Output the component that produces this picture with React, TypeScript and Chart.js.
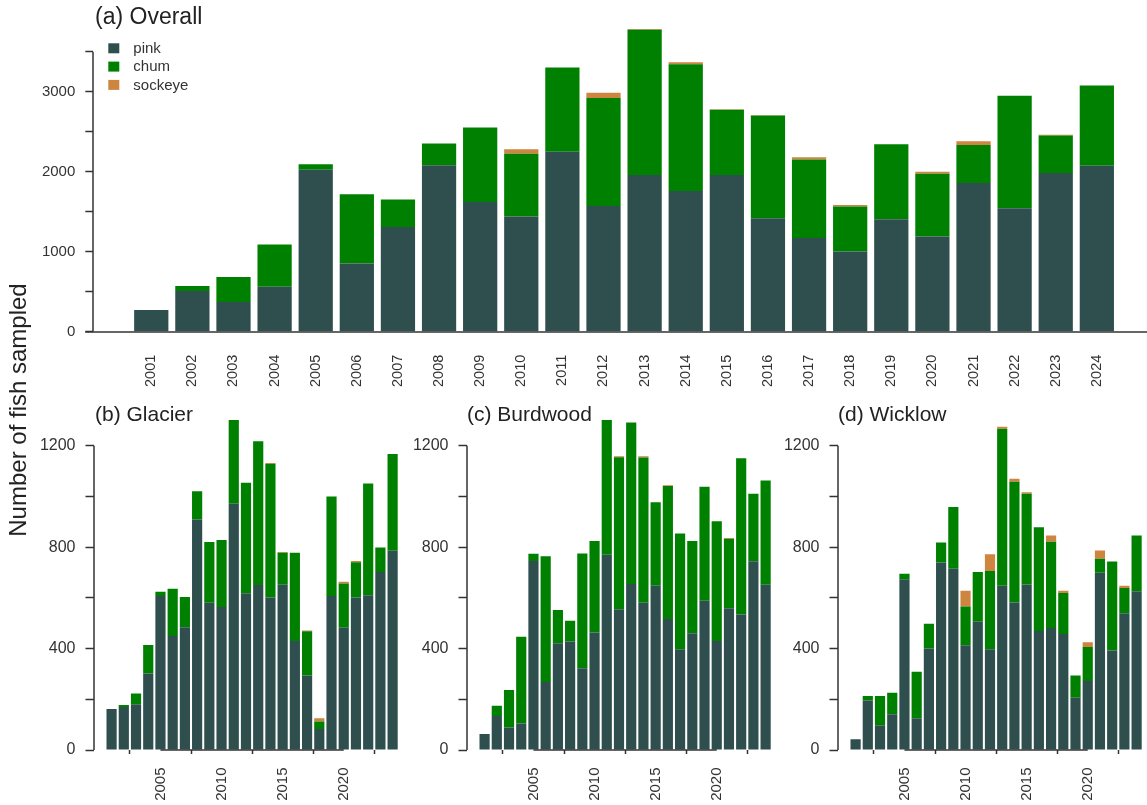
import React, { useEffect, useRef } from 'react';
import { Chart, registerables } from 'chart.js';

Chart.register(...registerables);

const FONT = '"Liberation Sans", Arial, Helvetica, sans-serif';
const PINK_COLOR = '#2F4F4F';
const CHUM_COLOR = '#008000';
const SOCKEYE_COLOR = '#CD853F';
const TEXT = '#333333';

const years = [2001, 2002, 2003, 2004, 2005, 2006, 2007, 2008, 2009, 2010, 2011, 2012,
  2013, 2014, 2015, 2016, 2017, 2018, 2019, 2020, 2021, 2022, 2023, 2024];

const overallPink = [270, 508, 370, 563, 2023, 851, 1309, 2081, 1622, 1439, 2248, 1572,
  1960, 1760, 1960, 1418, 1172, 1001, 1405, 1189, 1860, 1543, 1985, 2073];
const overallChum = [0, 63, 313, 526, 71, 867, 343, 272, 931, 784, 1056, 1348,
  1815, 1582, 814, 1285, 981, 563, 939, 784, 475, 1406, 468, 1006];
const overallSockeye = [0, 0, 0, 0, 0, 0, 0, 0, 0, 59, 0, 66,
  10, 25, 8, 3, 28, 21, 0, 25, 47, 0, 8, 0];

const glacierPink = [162, 170, 180, 302, 607, 450, 484, 909, 581, 564, 971, 618,
  651, 601, 652, 430, 294, 83, 607, 482, 601, 610, 702, 786];
const glacierChum = [0, 7, 43, 112, 17, 186, 119, 111, 239, 264, 330, 436,
  567, 527, 126, 348, 174, 29, 393, 175, 139, 441, 97, 381];
const glacierSockeye = [0, 0, 0, 0, 0, 0, 0, 0, 0, 0, 0, 0,
  0, 4, 3, 0, 3, 13, 0, 7, 5, 0, 0, 0];

const burdwoodPink = [63, 134, 89, 105, 745, 268, 421, 428, 322, 463, 770, 555,
  655, 581, 648, 517, 397, 460, 589, 430, 559, 534, 744, 652];
const burdwoodChum = [0, 41, 148, 342, 29, 496, 131, 82, 453, 361, 531, 600,
  637, 573, 329, 524, 457, 364, 449, 472, 274, 617, 267, 411];
const burdwoodSockeye = [0, 0, 0, 0, 0, 0, 0, 0, 0, 0, 0, 3,
  0, 4, 0, 3, 0, 0, 0, 0, 3, 0, 0, 0];

const wicklowPink = [42, 195, 96, 141, 673, 125, 400, 739, 715, 413, 506, 397,
  648, 582, 653, 469, 481, 457, 206, 272, 699, 392, 539, 626];
const wicklowChum = [0, 18, 117, 85, 22, 184, 98, 79, 243, 153, 196, 309,
  619, 476, 358, 409, 340, 162, 88, 134, 55, 351, 100, 220];
const wicklowSockeye = [0, 0, 0, 0, 0, 0, 0, 0, 0, 62, 0, 66,
  8, 12, 5, 0, 25, 9, 0, 19, 33, 0, 9, 0];

const seriesNames = ['pink', 'chum', 'sockeye'];
const seriesColors = [PINK_COLOR, CHUM_COLOR, SOCKEYE_COLOR];

const overallXTicks = years;
const panelXTicks = [2005, 2010, 2015, 2020];
const overallYTicks = [0, 500, 1000, 1500, 2000, 2500, 3000, 3500];
const overallYLabels = [0, 1000, 2000, 3000];
const panelYTicks = [0, 200, 400, 600, 800, 1000, 1200];
const panelYLabels = [0, 400, 800, 1200];

type Spec = {
  title: string;
  pink: number[];
  chum: number[];
  sockeye: number[];
  left: number;
  top: number;
  width: number;
  height: number;
  axisW: number;
  padTop: number;
  xAxisH: number;
  xMin: number;
  xMax: number;
  yMax: number;
  xTicks: number[];
  yTicks: number[];
  yLabels: number[];
  xTickLen: number;
  xTickPad: number;
  xFont: number;
  yFont: number;
  titleFont: number;
  titleX: number;
  titleY: number;
  fullBaseline: boolean;
  legend: boolean;
};

const specs: Spec[] = [
  {
    title: '(a) Overall', pink: overallPink, chum: overallChum, sockeye: overallSockeye,
    left: 0, top: 0, width: 1147, height: 400,
    axisW: 93.3, padTop: 25, xAxisH: 68.3,
    xMin: 1999.59, xMax: 2025.22, yMax: 3833.75,
    xTicks: overallXTicks, yTicks: overallYTicks, yLabels: overallYLabels,
    xTickLen: 0, xTickPad: 23, xFont: 14.5, yFont: 15,
    titleFont: 23, titleX: 95, titleY: 23.5, fullBaseline: true, legend: true,
  },
  {
    title: '(b) Glacier', pink: glacierPink, chum: glacierChum, sockeye: glacierSockeye,
    left: 0, top: 380, width: 403, height: 425,
    axisW: 93.5, padTop: 15, xAxisH: 55,
    xMin: 1999.52, xMax: 2024.85, yMax: 1400,
    xTicks: panelXTicks, yTicks: panelYTicks, yLabels: panelYLabels,
    xTickLen: 4, xTickPad: 13.5, xFont: 15, yFont: 16,
    titleFont: 21, titleX: 95, titleY: 40.6, fullBaseline: false, legend: false,
  },
  {
    title: '(c) Burdwood', pink: burdwoodPink, chum: burdwoodChum, sockeye: burdwoodSockeye,
    left: 373, top: 380, width: 403, height: 425,
    axisW: 93.5, padTop: 15, xAxisH: 55,
    xMin: 1999.52, xMax: 2024.85, yMax: 1400,
    xTicks: panelXTicks, yTicks: panelYTicks, yLabels: panelYLabels,
    xTickLen: 4, xTickPad: 13.5, xFont: 15, yFont: 16,
    titleFont: 21, titleX: 94, titleY: 40.6, fullBaseline: false, legend: false,
  },
  {
    title: '(d) Wicklow', pink: wicklowPink, chum: wicklowChum, sockeye: wicklowSockeye,
    left: 744, top: 380, width: 403, height: 425,
    axisW: 93.5, padTop: 15, xAxisH: 55,
    xMin: 1999.52, xMax: 2024.85, yMax: 1400,
    xTicks: panelXTicks, yTicks: panelYTicks, yLabels: panelYLabels,
    xTickLen: 4, xTickPad: 13.5, xFont: 15, yFont: 16,
    titleFont: 21, titleX: 94, titleY: 40.6, fullBaseline: false, legend: false,
  },
];

function decorPlugin(spec: Spec) {
  return {
    id: 'decor',
    afterDraw(chart: any) {
      const { ctx, chartArea, scales } = chart;
      const xs = scales.x;
      const ys = scales.y;
      ctx.save();
      ctx.strokeStyle = TEXT;
      ctx.lineWidth = 1.5;
      // y axis line from 0 to last tick
      const ax = Math.round(chartArea.left);
      const yTop = ys.getPixelForValue(spec.yTicks[spec.yTicks.length - 1]);
      const y0 = ys.getPixelForValue(0);
      ctx.beginPath();
      ctx.moveTo(ax, y0);
      ctx.lineTo(ax, yTop);
      ctx.stroke();
      // x baseline / axis
      const by = Math.round(y0);
      ctx.beginPath();
      if (spec.fullBaseline) {
        ctx.moveTo(chartArea.left - 8, by);
        ctx.lineTo(chartArea.right, by);
      } else {
        ctx.moveTo(xs.getPixelForValue(spec.xTicks[0]), by);
        ctx.lineTo(xs.getPixelForValue(spec.xTicks[spec.xTicks.length - 1]), by);
      }
      ctx.stroke();
      // title
      ctx.fillStyle = '#222222';
      ctx.font = `${spec.titleFont}px ${FONT}`;
      ctx.textBaseline = 'alphabetic';
      ctx.textAlign = 'left';
      ctx.fillText(spec.title, spec.titleX, spec.titleY);
      // legend
      if (spec.legend) {
        const datasets = chart.data.datasets;
        ctx.font = `15px ${FONT}`;
        ctx.textBaseline = 'middle';
        datasets.forEach((ds: any, i: number) => {
          const cy = 48.3 + i * 18.3;
          ctx.fillStyle = ds.backgroundColor;
          ctx.fillRect(108.3, cy - 5, 11, 10);
          ctx.fillStyle = TEXT;
          ctx.fillText(ds.label, 133.3, cy + 0.5);
        });
      }
      ctx.restore();
    },
  };
}

function Panel({ spec }: { spec: Spec }) {
  const ref = useRef<HTMLCanvasElement | null>(null);
  useEffect(() => {
    if (!ref.current) return;
    const seriesData = [spec.pink, spec.chum, spec.sockeye];
    const chart = new Chart(ref.current, {
      type: 'bar',
      data: {
        datasets: seriesNames.map((name, k) => ({
          label: name,
          data: years.map((yr, i) => ({ x: yr, y: seriesData[k][i] })),
          backgroundColor: seriesColors[k],
          borderWidth: 0,
          categoryPercentage: 1,
          barPercentage: 0.833,
        })),
      },
      options: {
        animation: false,
        responsive: false,
        devicePixelRatio: 1,
        events: [],
        layout: { padding: { top: spec.padTop, left: 0, right: 0, bottom: 0 } },
        plugins: {
          legend: { display: false },
          tooltip: { enabled: false },
          title: { display: false },
        },
        scales: {
          x: {
            type: 'linear',
            stacked: true,
            min: spec.xMin,
            max: spec.xMax,
            offset: false,
            afterBuildTicks: (s: any) => {
              s.ticks = spec.xTicks.map((v) => ({ value: v }));
            },
            afterFit: (s: any) => {
              s.height = spec.xAxisH;
              s.paddingLeft = 0;
              s.paddingRight = 0;
            },
            ticks: {
              autoSkip: false,
              minRotation: 90,
              maxRotation: 90,
              padding: spec.xTickPad,
              color: TEXT,
              font: { size: spec.xFont, family: FONT },
              callback: (v: any) => String(v),
            },
            grid: {
              display: true,
              drawOnChartArea: false,
              drawTicks: spec.xTickLen > 0,
              tickLength: spec.xTickLen,
              tickColor: TEXT,
              tickWidth: 1.5,
            },
            border: { display: false },
          },
          y: {
            type: 'linear',
            stacked: true,
            min: 0,
            max: spec.yMax,
            afterBuildTicks: (s: any) => {
              s.ticks = spec.yTicks.map((v) => ({ value: v }));
            },
            afterFit: (s: any) => {
              s.width = spec.axisW;
              s.paddingTop = 0;
              s.paddingBottom = 0;
            },
            ticks: {
              padding: 10,
              color: TEXT,
              font: { size: spec.yFont, family: FONT },
              callback: (v: any) => (spec.yLabels.includes(Number(v)) ? String(v) : ''),
            },
            grid: {
              display: true,
              drawOnChartArea: false,
              drawTicks: true,
              tickLength: 8,
              tickColor: TEXT,
              tickWidth: 1.5,
            },
            border: { display: false },
          },
        },
      } as any,
      plugins: [decorPlugin(spec)],
    });
    return () => chart.destroy();
  }, [spec]);
  return (
    <canvas
      ref={ref}
      width={spec.width}
      height={spec.height}
      style={{
        position: 'absolute',
        left: spec.left,
        top: spec.top,
        width: spec.width + 'px',
        height: spec.height + 'px',
      }}
    />
  );
}

export default function App() {
  return (
    <div
      style={{
        position: 'absolute',
        left: 0,
        top: 0,
        width: 1147,
        height: 805,
        background: '#ffffff',
        overflow: 'hidden',
        fontFamily: FONT,
      }}
    >
      {specs.map((s) => (
        <Panel key={s.title} spec={s} />
      ))}
      <div
        style={{
          position: 'absolute',
          left: -132,
          top: 398,
          width: 300,
          height: 24,
          lineHeight: '24px',
          fontSize: 24,
          textAlign: 'center',
          color: '#222222',
          transform: 'rotate(-90deg)',
          transformOrigin: '50% 50%',
          whiteSpace: 'nowrap',
        }}
      >
        Number of fish sampled
      </div>
    </div>
  );
}
